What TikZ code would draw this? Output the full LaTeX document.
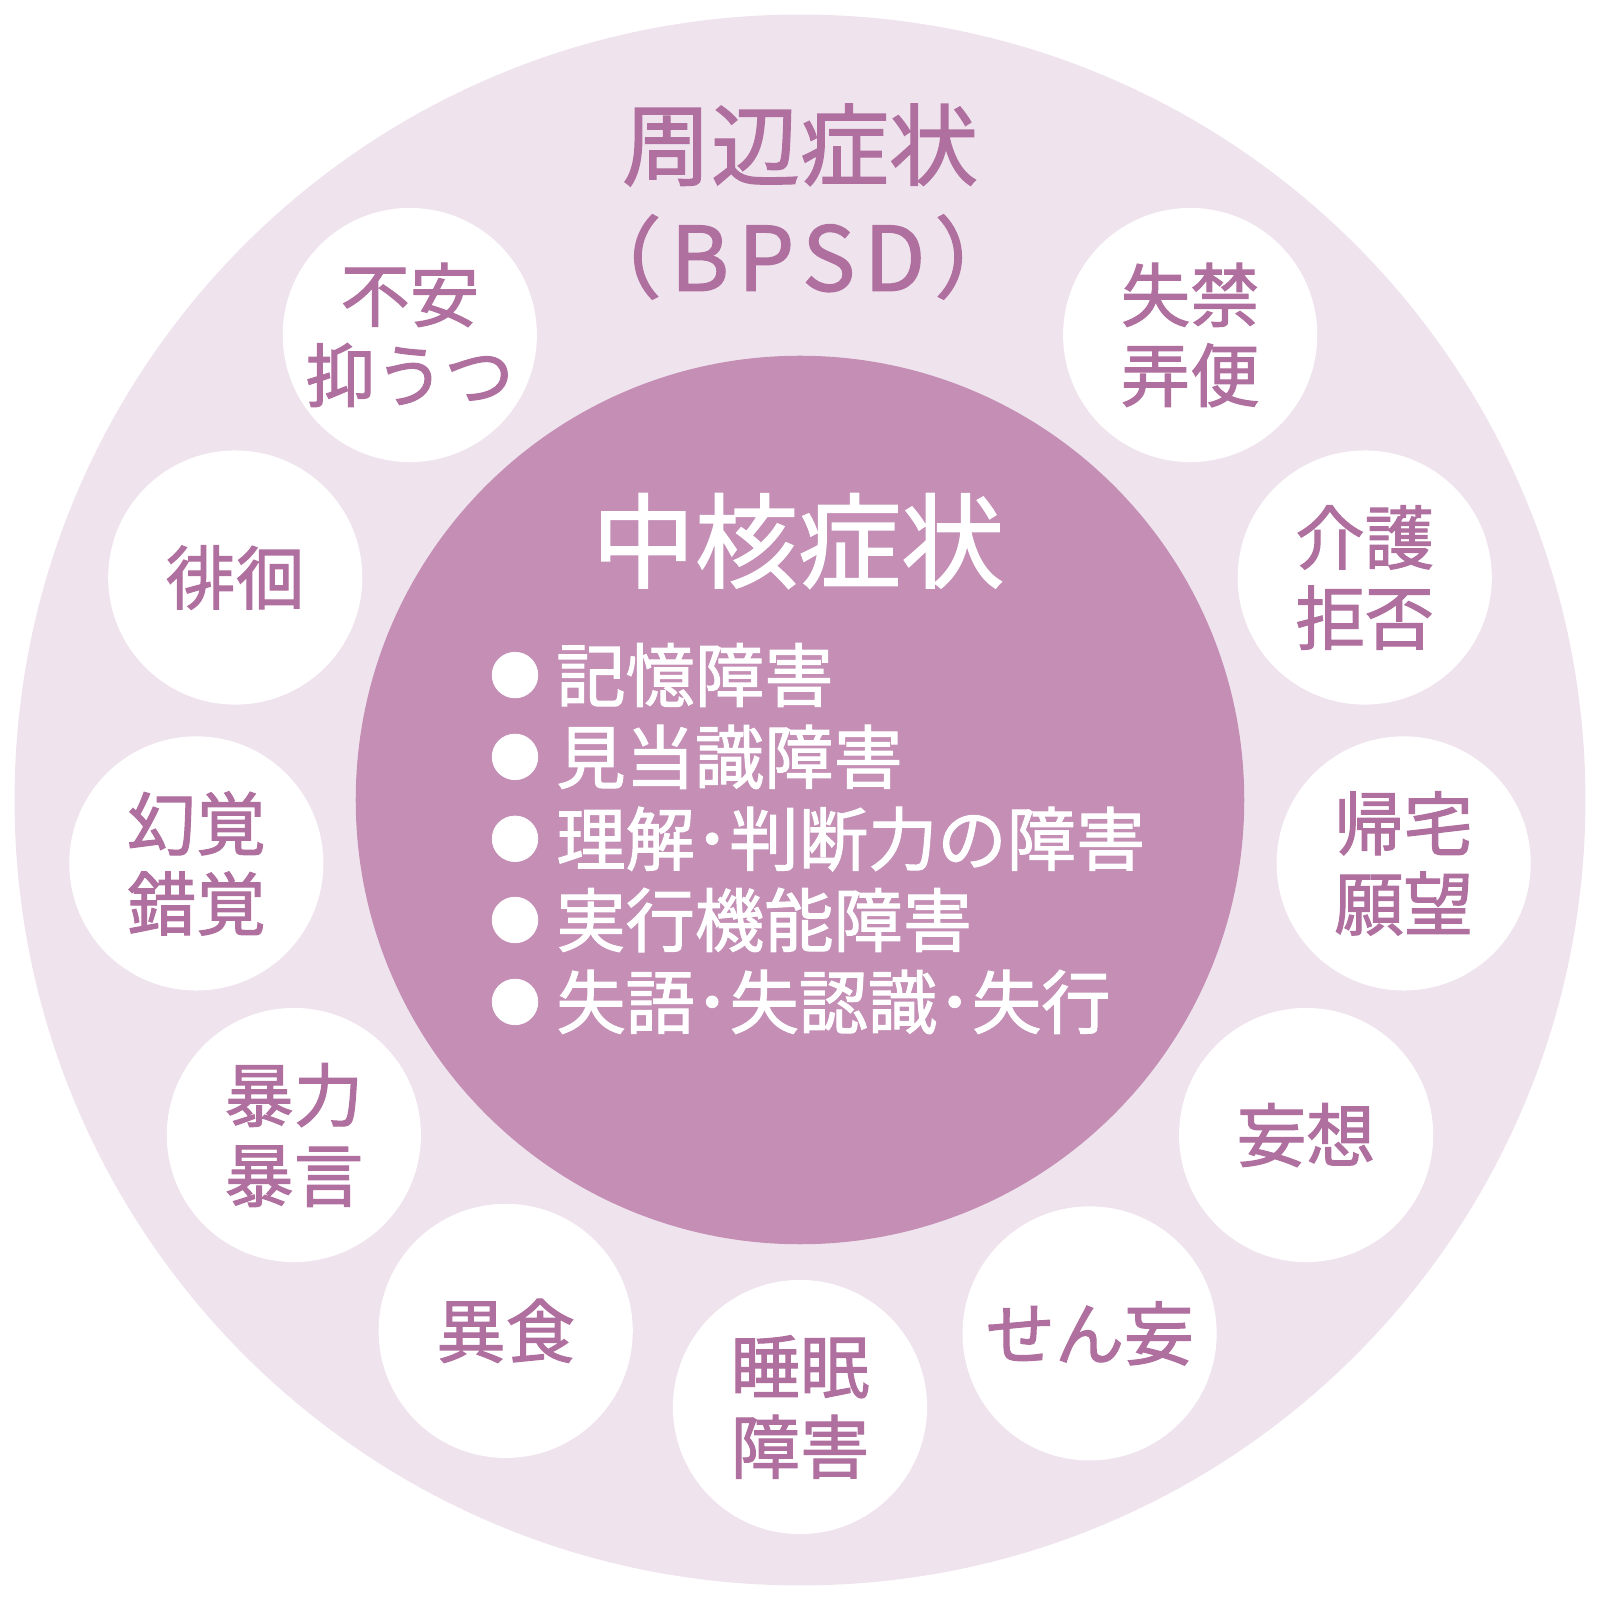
\documentclass[tikz,border=0pt]{standalone}
\usepackage{fontspec}
\newfontfamily\jp[FakeBold=1.5]{Noto Sans CJK JP}
\usepackage{tikz}

\definecolor{ringpink}{RGB}{239,227,238}
\definecolor{corepink}{RGB}{196,142,181}
\definecolor{labelpurple}{RGB}{176,112,159}

\newcommand{\dotmark}{\raisebox{0.07cm}{\fontsize{14.4}{14.4}\selectfont ●}\hspace{0.16cm}}

\begin{document}
\begin{tikzpicture}[
    x=0.01cm, y=0.01cm,
    disc/.style={
      circle, inner sep=0pt, text centered
    },
    ring/.style={disc, fill=ringpink, minimum size=15.7cm},
    core/.style={disc, fill=corepink, minimum size=8.88cm},
    bpsd/.style={
      disc, fill=white, minimum size=2.54cm, align=center, text=labelpurple,
      font=\jp\fontsize{19.7}{22.8}\selectfont
    },
    title/.style={text=labelpurple, inner sep=0pt, font=\jp\fontsize{25.3}{25.3}\selectfont},
    heading/.style={text=white, inner sep=0pt, font=\jp\fontsize{29.3}{29.3}\selectfont},
    item/.style={
      text=white, inner sep=0pt, anchor=west,
      font=\jp\fontsize{19.7}{19.7}\selectfont
    },
  ]
    \useasboundingbox (-800,-800) rectangle (800,800);

    \node[ring](periph) at (0,0) {};
    \node[core](central) at (0,0) {};

    \node[title](periph_title) at (0,655) {周辺症状};
    \node[title](periph_abbr) at (-2,543) {\addfontfeatures{LetterSpace=10}（BPSD）};

    \node[heading](central_title) at (-2,259) {中核症状};

    \node[item](memory) at (-311,125) {\dotmark 記憶障害};
    \node[item](orient) at (-311,43) {\dotmark 見当識障害};
    \node[item](judge) at (-311,-39) {\dotmark 理解･判断力の障害};
    \node[item](exec) at (-311,-120) {\dotmark 実行機能障害};
    \node[item](aphasia) at (-311,-202) {\dotmark 失語･失認識･失行};

    % symptoms round the ring, anticlockwise from the top left
    \foreach \ang/\name/\txt in {
        130/anxiety/{不安\\抑うつ}, 158.5/wander/{徘徊},
        186/halluc/{幻覚\\錯覚}, 213.5/violence/{暴力\\暴言},
        241/pica/{異食}, 270/sleep/{睡眠\\障害},
        298.5/delirium/{せん妄}, 326.5/delusion/{妄想},
        354/homing/{帰宅\\願望}, 21.5/refusal/{介護\\拒否},
        50/incont/{失禁\\弄便}}
      \node[bpsd](\name) at (\ang:607) {\txt};

  \end{tikzpicture}
\end{document}
